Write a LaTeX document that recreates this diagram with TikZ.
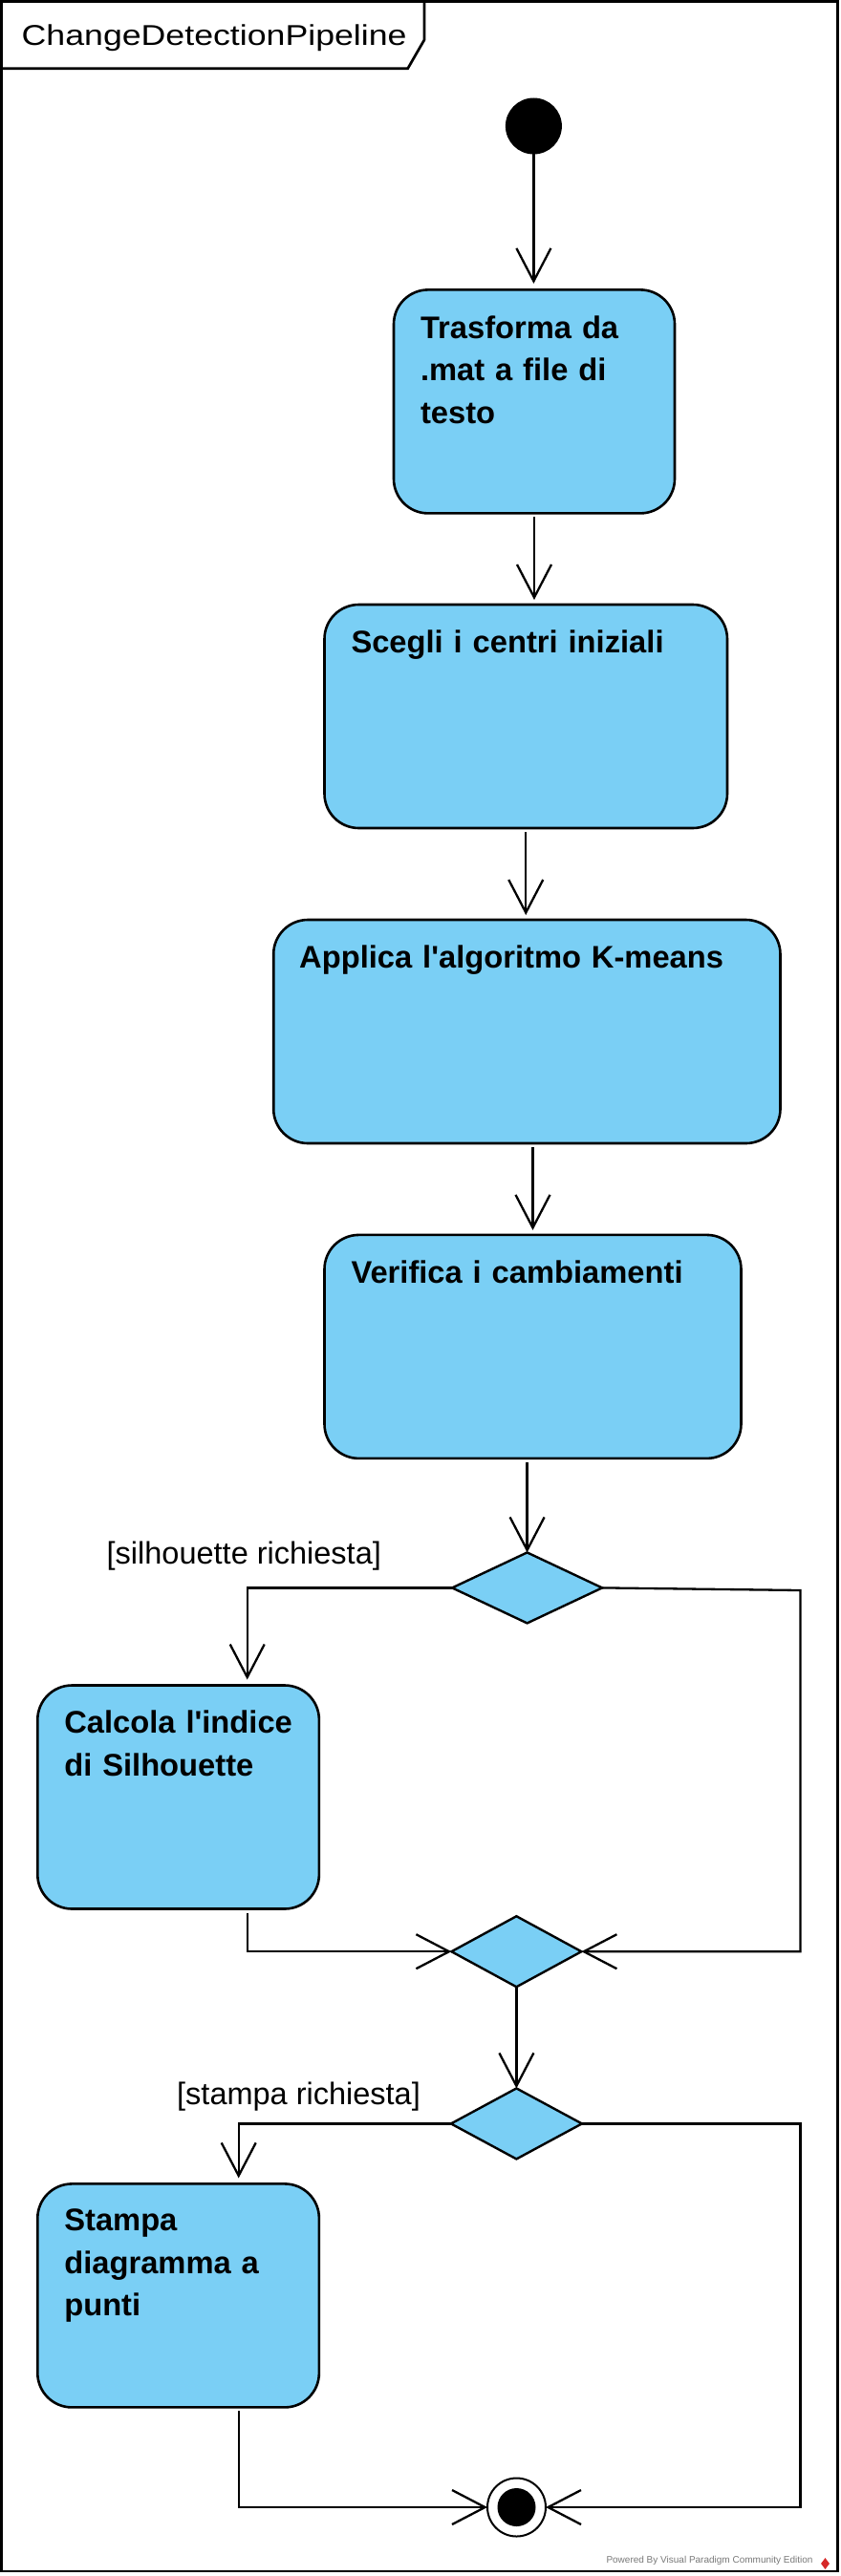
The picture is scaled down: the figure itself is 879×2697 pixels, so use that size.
\documentclass[tikz,border=0pt]{standalone}
\usepackage{graphicx}
\usepackage{fontspec}
\setmainfont{Liberation Sans}
\usetikzlibrary{arrows.meta,shapes.geometric,calc}
\definecolor{actfill}{RGB}{122,207,245}
\definecolor{vpgrey}{RGB}{120,120,120}
\definecolor{vpred}{RGB}{214,40,40}
\begin{document}
\begin{tikzpicture}[x=1pt,y=-1pt,
  act/.style={draw=black, line width=2.6pt, fill=actfill, rounded corners=36pt,
    inner sep=0pt, outer sep=0pt, minimum width=#1, minimum height=234pt},
  dec/.style={diamond, draw=black, line width=2.4pt, fill=actfill, inner sep=0pt,
    outer sep=0pt, minimum width=#1, minimum height=74pt},
  acttext/.style={anchor=base west, inner sep=0pt, outer sep=0pt, align=left, text width=#1,
    font=\fontsize{32.7pt}{44.5pt}\selectfont\bfseries},
  guard/.style={anchor=base west, inner sep=0pt, outer sep=0pt,
    font=\fontsize{32.5pt}{39pt}\selectfont},
  flow/.style={draw=black, line width=2.3pt,
    -{Straight Barb[length=34.5pt, width=36pt, line width=2.3pt]}},
  frameline/.style={draw=black, line width=2.7pt}
]
\useasboundingbox (0,0) rectangle (879,2697);

% frame and name tab
\draw[frameline] (1.35,1.35) rectangle (876.5,2692);
\draw[frameline] (1.35,71.7) -- (426.7,71.7) -- (444,41.7) -- (444,1.35);
\node[anchor=base west, inner sep=0pt, font=\fontsize{30pt}{36pt}\selectfont]
  (title) at (22.5,47.7) {\scalebox{1.19}[1]{ChangeDetectionPipeline}};

% nodes
\node[circle, fill=black, minimum size=59pt, inner sep=0pt, outer sep=0pt] (init) at (558.4,132) {};
\node[act=294pt]   (b1) at (559,420.4) {};
\node[act=421.5pt] (b2) at (550.25,750) {};
\node[act=530.3pt] (b3) at (551.35,1080) {};
\node[act=436pt]   (b4) at (557.5,1409.9) {};
\node[dec=157pt]   (d1) at (551.6,1662.4) {};
\node[act=294.6pt] (b5) at (186.6,1881.5) {};
\node[dec=136pt]   (m)  at (540.4,2043.2) {};
\node[dec=137pt]   (d2) at (540.4,2223.4) {};
\node[act=294.6pt] (b6) at (186.6,2403.4) {};
\node[circle, draw=black, line width=2pt, fill=white, minimum size=61pt, inner sep=0pt, outer sep=0pt] (fin) at (540.5,2625) {};
\node[circle, fill=black, minimum size=40pt, inner sep=0pt, outer sep=0pt] (finin) at (fin) {};

% texts
\node[acttext=260pt] (b1t) at ([xshift=28pt,yshift=-50.8pt]b1.north west) {Trasforma da\\.mat a file di\\testo};
\node[acttext=380pt] (b2t) at ([xshift=28pt,yshift=-50.5pt]b2.north west) {Scegli i centri iniziali};
\node[acttext=490pt] (b3t) at ([xshift=27pt,yshift=-50.5pt]b3.north west) {Applica l\textquotesingle algoritmo K-means};
\node[acttext=400pt] (b4t) at ([xshift=28pt,yshift=-50.8pt]b4.north west) {Verifica i cambiamenti};
\node[acttext=260pt] (b5t) at ([xshift=28pt,yshift=-50pt]b5.north west) {Calcola l\textquotesingle indice\\di Silhouette};
\node[acttext=260pt] (b6t) at ([xshift=28pt,yshift=-49.3pt]b6.north west) {Stampa\\diagramma a\\punti};
\node[guard] (g1) at (111.7,1637) {[silhouette richiesta]};
\node[guard] (g2) at (185.2,2203.8) {[stampa richiesta]};

% helper points
\coordinate (c1) at (837.5,1665);
\coordinate (b5in) at ([xshift=72.1pt]b5.north);
\coordinate (b5out) at ([xshift=72.1pt]b5.south);
\coordinate (b6in) at ([xshift=63.1pt]b6.north);
\coordinate (b6out) at ([xshift=63.1pt]b6.south);

% connectors
\draw[flow, shorten >=6.5pt] (init.south) -- (init.south |- b1.north);
\draw[flow, shorten <=4pt, shorten >=5pt] (b1.south) -- (b1.south |- b2.north);
\draw[flow, shorten <=4pt, shorten >=5pt] (b2.south) -- (b2.south |- b3.north);
\draw[flow, shorten <=4pt, shorten >=5pt] (b4.north |- b3.south) -- (b4.north);
\draw[flow, shorten <=4pt] (d1.north |- b4.south) -- (d1.north);
\draw[flow, shorten >=6pt] (d1.west) -| (b5in);
\draw[flow] (d1.east) -- (c1) |- (m.east);
\draw[flow, shorten <=4pt] (b5out) |- (m.west);
\draw[flow] (m.south) -- (d2.north);
\draw[flow, shorten >=6pt] (d2.west) -| (b6in);
\draw[flow] (d2.east) -- (d2.east -| c1) |- (fin.east);
\draw[flow, shorten <=4pt] (b6out) |- (fin.west);

% footer
\node[anchor=base west, inner sep=0pt, text=vpgrey, font=\fontsize{10pt}{12pt}\selectfont]
  (pw) at (634.3,2683.3) {Powered By Visual Paradigm Community Edition};
\node[diamond, fill=vpred, minimum width=9pt, minimum height=12pt, inner sep=0pt] (logo) at (863.5,2684) {};
\end{tikzpicture}
\end{document}
